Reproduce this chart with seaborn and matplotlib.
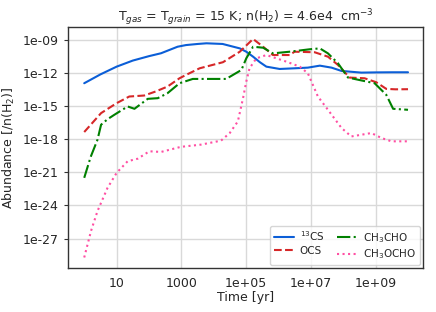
import numpy as np
import pandas as pd
import seaborn as sns
import matplotlib
matplotlib.use("Agg")
import matplotlib.pyplot as plt
from matplotlib.ticker import FixedLocator, FuncFormatter, NullLocator

# valores (log10 del tiempo en años, log10 de la abundancia)
t_cs = [0.0, 0.5, 1.0, 1.5, 2.0, 2.37, 2.88, 3.14, 3.5, 3.77, 4.27, 4.8, 5.0, 5.21, 5.42, 5.62, 6.03, 6.49, 6.9, 7.27, 7.63, 7.94, 8.55, 9.0, 9.5, 9.99]
y_cs = [-12.95, -12.15, -11.45, -10.9, -10.5, -10.24, -9.65, -9.5, -9.4, -9.34, -9.4, -9.8, -10.1, -10.55, -11.05, -11.45, -11.66, -11.6, -11.54, -11.36, -11.54, -11.84, -11.99, -11.97, -11.96, -11.96]

t_ocs = [0.0, 0.52, 1.0, 1.39, 1.85, 2.2, 2.57, 2.94, 3.14, 3.56, 4.28, 4.8, 5.21, 5.52, 5.82, 6.34, 6.49, 7.11, 7.52, 7.83, 8.19, 8.65, 9.01, 9.32, 9.6, 9.99]
y_ocs = [-17.36, -15.65, -14.75, -14.15, -14.06, -13.7, -13.25, -12.5, -12.2, -11.6, -11.05, -10.1, -8.95, -9.65, -10.4, -10.4, -10.1, -10.15, -10.55, -11.3, -12.44, -12.5, -12.86, -13.46, -13.5, -13.49]

t_ch3cho = [0.0, 0.2, 0.41, 0.52, 0.72, 0.93, 1.34, 1.55, 1.96, 2.27, 2.57, 2.94, 3.35, 4.38, 4.85, 5.0, 5.21, 5.52, 5.82, 6.34, 6.96, 7.27, 7.52, 7.83, 8.14, 8.96, 9.32, 9.53, 9.99]
y_ch3cho = [-21.5, -19.6, -18.05, -16.7, -16.2, -15.8, -15.05, -15.26, -14.36, -14.3, -13.85, -12.95, -12.56, -12.56, -11.75, -10.7, -9.65, -9.74, -10.25, -10.1, -9.88, -9.8, -10.25, -11.15, -12.44, -12.95, -14.0, -15.26, -15.35]

t_ch3ocho = [0.0, 0.21, 0.41, 0.72, 1.0, 1.34, 1.65, 2.01, 2.37, 2.98, 3.6, 4.22, 4.49, 4.74, 4.9, 5.0, 5.1, 5.31, 5.62, 6.24, 6.65, 6.9, 7.21, 7.52, 7.94, 8.24, 8.86, 9.17, 9.48, 9.99]
y_ch3ocho = [-28.7, -26.3, -24.5, -22.4, -21.05, -20.0, -19.77, -19.1, -19.16, -18.7, -18.5, -18.14, -17.45, -16.4, -14.3, -12.8, -11.6, -10.7, -10.4, -11.0, -11.45, -12.05, -14.15, -15.35, -17.0, -17.76, -17.45, -17.9, -18.2, -18.2]

especies = ["$^{13}$CS", "OCS", "CH$_3$CHO", "CH$_3$OCHO"]
colores = ["#0b5ed7", "#d62728", "green", "#ff4fa3"]
estilos = ["-", "--", "-.", ":"]

x_ticks = [1e1, 1e3, 1e5, 1e7, 1e9]
y_ticks = [1e-27, 1e-24, 1e-21, 1e-18, 1e-15, 1e-12, 1e-09]

series = [(t_cs, y_cs), (t_ocs, y_ocs), (t_ch3cho, y_ch3cho), (t_ch3ocho, y_ch3ocho)]

sns.set_style("whitegrid")
plt.rcParams["font.family"] = ["DejaVu Sans"]

fig, ax = plt.subplots(figsize=(4.36, 3.12), dpi=100)
fig.subplots_adjust(left=0.156, right=0.970, top=0.913, bottom=0.141)

for (t, y), nombre, c, ls in zip(series, especies, colores, estilos):
    df = pd.DataFrame({"t": 10 ** np.array(t), "ab": 10 ** np.array(y)})
    sns.lineplot(data=df, x="t", y="ab", ax=ax, color=c, linestyle=ls, linewidth=1.5, label=nombre)

ax.set_xscale("log")
ax.set_yscale("log")
ax.set_xlim(10 ** -0.5, 10 ** 10.45)
ax.set_ylim(10 ** -29.65, 10 ** -7.88)
ax.xaxis.set_major_locator(FixedLocator(x_ticks))
ax.yaxis.set_major_locator(FixedLocator(y_ticks))
ax.xaxis.set_minor_locator(NullLocator())
ax.yaxis.set_minor_locator(NullLocator())
fmt = FuncFormatter(lambda v, p: "%.4g" % v)
ax.xaxis.set_major_formatter(fmt)
ax.yaxis.set_major_formatter(fmt)
ax.tick_params(axis="both", labelsize=9, length=3, color="#333333", left=True, bottom=False)
ax.grid(True, color="#d9d9d9", linewidth=1)
for s in ax.spines.values():
    s.set_color("#333333")
    s.set_linewidth(1)

ax.set_xlabel("Time [yr]", fontsize=9, labelpad=1)
ax.set_ylabel("Abundance [/n(H$_2$)]", fontsize=9)
ax.set_title("T$_{gas}$ = T$_{grain}$ = 15 K; n(H$_2$) = 4.6e4  cm$^{-3}$", fontsize=9, pad=4)
ax.legend(loc="lower right", ncol=2, fontsize=7.5, frameon=True, handlelength=1.9,
          handletextpad=0.6, columnspacing=1.2, borderpad=0.35, labelspacing=0.25,
          borderaxespad=0.3)

fig.savefig("out.png", dpi=100)
